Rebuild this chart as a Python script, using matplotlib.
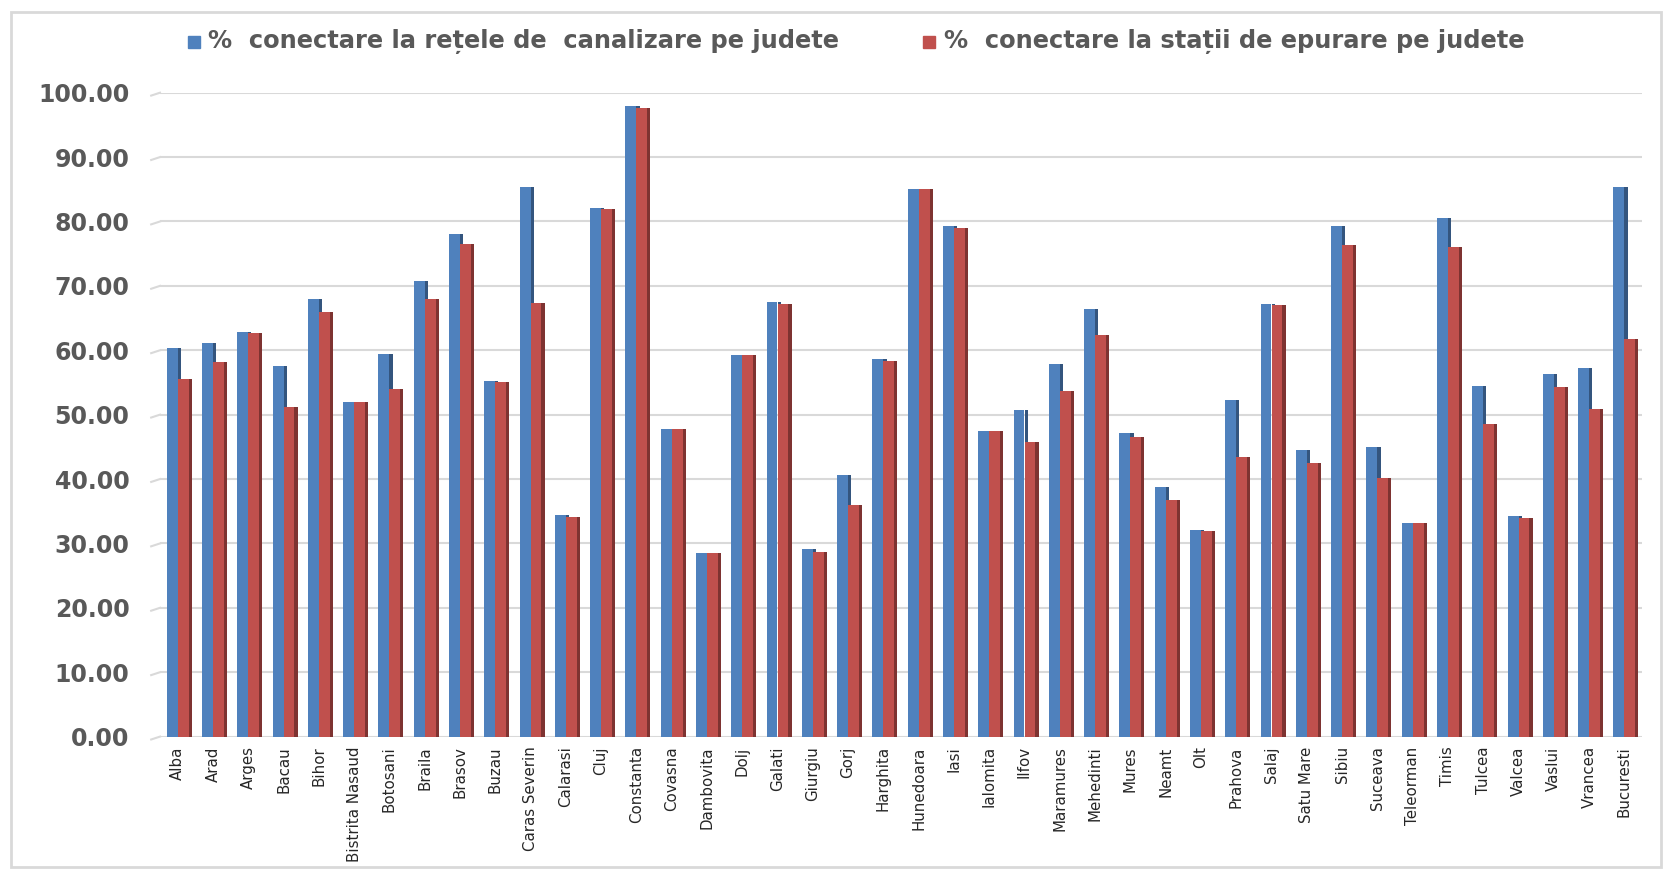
import matplotlib
matplotlib.use("Agg")
import matplotlib.pyplot as plt
from matplotlib.patches import Rectangle
import numpy as np

judete = ["Alba", "Arad", "Arges", "Bacau", "Bihor", "Bistrita Nasaud", "Botosani",
          "Braila", "Brasov", "Buzau", "Caras Severin", "Calarasi", "Cluj", "Constanta",
          "Covasna", "Dambovita", "Dolj", "Galati", "Giurgiu", "Gorj", "Harghita",
          "Hunedoara", "Iasi", "Ialomita", "Ilfov", "Maramures", "Mehedinti", "Mures",
          "Neamt", "Olt", "Prahova", "Salaj", "Satu Mare", "Sibiu", "Suceava",
          "Teleorman", "Timis", "Tulcea", "Valcea", "Vaslui", "Vrancea", "Bucuresti"]

canalizare = [60.4, 61.2, 62.9, 57.6, 68.0, 52.0, 59.4, 70.7, 78.1, 55.3, 85.3, 34.4,
              82.1, 98.0, 47.8, 28.5, 59.3, 67.5, 29.1, 40.7, 58.6, 85.1, 79.3, 47.4,
              50.7, 57.9, 66.4, 47.2, 38.7, 32.1, 52.2, 67.2, 44.5, 79.3, 45.0, 33.1,
              80.6, 54.5, 34.3, 56.3, 57.3, 85.4]

epurare = [55.5, 58.2, 62.7, 51.2, 66.0, 52.0, 54.0, 68.0, 76.5, 55.1, 67.4, 34.1,
           82.0, 97.7, 47.8, 28.5, 59.3, 67.2, 28.6, 35.9, 58.4, 85.1, 79.0, 47.4,
           45.7, 53.6, 62.4, 46.5, 36.8, 32.0, 43.4, 67.1, 42.5, 76.3, 40.2, 33.1,
           76.0, 48.6, 33.9, 54.3, 50.8, 61.8]

legend_labels = ["%  conectare la rețele de  canalizare pe judete",
                 "%  conectare la stații de epurare pe judete"]
yticks = [0, 10, 20, 30, 40, 50, 60, 70, 80, 90, 100]

BLUE, BLUE_SIDE = "#4F81BD", "#34557E"
RED, RED_SIDE = "#C0504D", "#7E3331"
TXT = "#595959"

fig = plt.figure(figsize=(16.72, 8.73), dpi=100)
ax = fig.add_axes([160 / 1672, 1 - 736.6 / 873, (1642 - 160) / 1672, (736.6 - 92.7) / 873])

x = np.arange(len(judete))
w = 0.31
d = 0.09
# blue front + side
ax.bar(x - w / 2, canalizare, width=w, color=BLUE, zorder=3)
ax.bar(x + d / 2, canalizare, width=d, color=BLUE_SIDE, zorder=2.5)
# red front + side
ax.bar(x + w / 2, epurare, width=w, color=RED, zorder=4)
ax.bar(x + w + d / 2, epurare, width=d, color=RED_SIDE, zorder=3.5)

ax.set_xlim(-0.5, len(judete) - 0.5)
ax.set_ylim(0, 100)
ax.set_yticks(yticks)
ax.set_yticklabels([f"{v:.2f}" for v in yticks], fontsize=17, fontweight="bold",
                   color=TXT, family="DejaVu Sans")
ax.tick_params(axis="y", length=0, pad=22)
ax.set_xticks(x)
ax.set_xticklabels(judete, rotation=90, fontsize=10.8, color="#262626",
                   family=["Liberation Sans Narrow", "DejaVu Sans"])
ax.tick_params(axis="x", length=0, pad=7)
ax.grid(axis="y", color="#D9D9D9", linewidth=1.5, zorder=0)
ax.set_axisbelow(True)
for s in ax.spines.values():
    s.set_visible(False)

# 3D floor slant at the left of gridlines
for v in yticks:
    ax.plot([-0.75, -0.5], [v - 0.45, v], color="#D9D9D9", lw=1.5,
            clip_on=False, zorder=0)

# legend (manual)
H, W = 873, 1672
ly = 1 - 41.5 / H
fig.patches.append(Rectangle((188 / W, ly - 6 / H), 12 / W, 12 / H,
                             transform=fig.transFigure, color=BLUE))
fig.text(208 / W, ly, legend_labels[0], fontsize=17.4, fontweight="bold", color=TXT,
         va="center", ha="left", family="DejaVu Sans")
fig.patches.append(Rectangle((923 / W, ly - 6 / H), 12 / W, 12 / H,
                             transform=fig.transFigure, color=RED))
fig.text(944 / W, ly, legend_labels[1], fontsize=17.4, fontweight="bold", color=TXT,
         va="center", ha="left", family="DejaVu Sans")

# outer frame
fig.patches.append(Rectangle((11 / W, 6 / H), 1650 / W, 855 / H,
                             transform=fig.transFigure, fill=False,
                             edgecolor="#D9D9D9", lw=2))

fig.savefig("out.png", dpi=100, facecolor="white")
